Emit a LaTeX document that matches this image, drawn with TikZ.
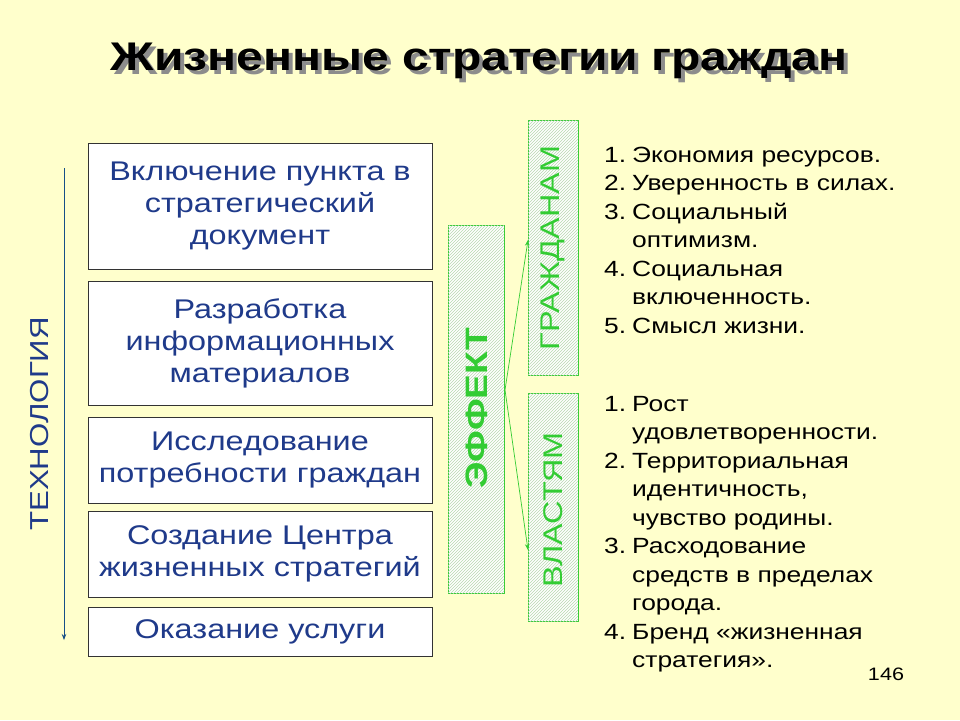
\documentclass[tikz,border=0pt]{standalone}
\usepackage{fontspec}
\setmainfont{Liberation Sans}[FakeStretch=1.2]
\usetikzlibrary{patterns,arrows.meta}
\definecolor{bg}{HTML}{FFFFCC}
\definecolor{tblue}{HTML}{1F3A8A}
\definecolor{gr}{HTML}{33CC33}
\definecolor{hatch}{HTML}{B8D8B0}
\tikzset{
 stepbox/.style={draw=black!80,fill=white,line width=0.8pt,text=tblue,align=center,font=\fontsize{27}{32}\selectfont},
 hbox/.style={draw=gr,line width=0.8pt,fill=white,postaction={pattern=north east lines,pattern color=hatch}},
 lst/.style={anchor=north west,font=\fontsize{22}{28.5}\selectfont,align=left,inner sep=0pt},
 garr/.style={draw=gr,-{Stealth[length=6pt]},line width=0.7pt}
}
\begin{document}
\begin{tikzpicture}[x=1pt,y=-1pt]
\fill[bg] (0,0) rectangle (960,720);
\node[font=\fontsize{40}{44}\bfseries\selectfont,text=black!45] at (483,65) {Жизненные стратегии граждан};
\node[font=\fontsize{40}{44}\bfseries\selectfont,text=black] (title) at (479,61) {Жизненные стратегии граждан};
\node[stepbox,minimum width=344pt,minimum height=126pt] (b1) at (260,206) {Включение пункта в\\стратегический\\документ};
\node[stepbox,minimum width=344pt,minimum height=124pt] (b2) at (260,343) {Разработка\\информационных\\материалов};
\node[stepbox,minimum width=344pt,minimum height=86pt] (b3) at (260,460) {Исследование\\потребности граждан};
\node[stepbox,minimum width=344pt,minimum height=86pt] (b4) at (260,554) {Создание Центра\\жизненных стратегий};
\node[stepbox,minimum width=344pt,minimum height=49pt] (b5) at (260,631.5) {Оказание услуги};
\coordinate (t1) at (64,168); \coordinate (t2) at (64,640);
\draw[tblue!70!teal,line width=0.8pt,-{Stealth[length=6pt]}] (t1) -- (t2);
\node[rotate=90,text=tblue,font=\fontsize{26}{28}\selectfont] (tech) at (40,424) {ТЕХНОЛОГИЯ};
\node[hbox,minimum width=56pt,minimum height=368pt] (ef) at (476,409) {};
\node[rotate=90,text=gr,font=\fontsize{31}{32}\bfseries\selectfont] at (477,408) {ЭФФЕКТ};
\node[hbox,minimum width=50pt,minimum height=255pt] (gz) at (553,247.5) {};
\node[rotate=90,text=gr,font=\fontsize{27}{28}\selectfont] at (553,248) {ГРАЖДАНАМ};
\node[hbox,minimum width=50pt,minimum height=228pt] (vl) at (553,507) {};
\node[rotate=90,text=gr,font=\fontsize{27}{28}\selectfont] at (553,510) {ВЛАСТЯМ};
\coordinate (c) at (505,390);
\coordinate (g1) at (528,240); \coordinate (v1) at (528,550);
\draw[garr] (c) -- (g1);
\draw[garr] (c) -- (v1);
\node[lst] (l1) at (604,142) {\begin{tabular}{@{}r@{\hspace{6pt}}l@{}}
1.&Экономия ресурсов.\\2.&Уверенность в силах.\\3.&Социальный\\&оптимизм.\\4.&Социальная\\&включенность.\\5.&Смысл жизни.\end{tabular}};
\node[lst] (l2) at (604,391) {\begin{tabular}{@{}r@{\hspace{6pt}}l@{}}
1.&Рост\\&удовлетворенности.\\2.&Территориальная\\&идентичность,\\&чувство родины.\\3.&Расходование\\&средств в пределах\\&города.\\4.&Бренд «жизненная\\&стратегия».\end{tabular}};
\node[font=\fontsize{18}{20}\selectfont] (pg) at (886,674) {146};
\end{tikzpicture}
\end{document}
